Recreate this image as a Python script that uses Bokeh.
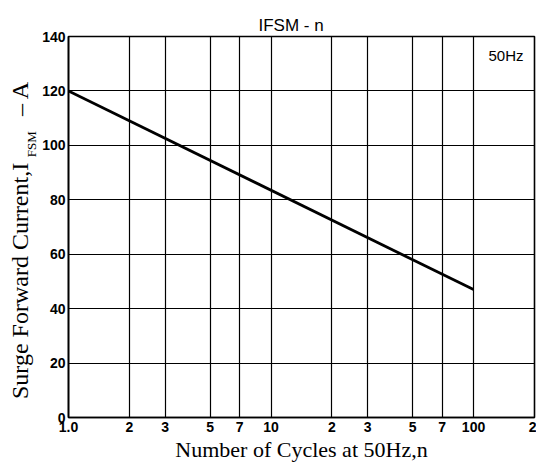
import math
from bokeh.plotting import figure
from bokeh.layouts import row
from bokeh.models import FixedTicker, Label
from bokeh.core.properties import value
from bokeh.embed import file_html
from bokeh.resources import INLINE

# ---- data ----
cycles = [1, 100]
ifsm = [120, 47]
x_ticks = [1, 2, 3, 5, 7, 10, 20, 30, 50, 70, 100, 200]
x_tick_labels = ["1.0", "2", "3", "5", "7", "10", "2", "3", "5", "7", "100", "2"]
y_ticks = [0, 20, 40, 60, 80, 100, 120, 140]
y_tick_labels = ["0", "20", "40", "60", "80", "100", "120", "140"]
title_text = "IFSM - n"
x_title = "Number of Cycles at 50Hz,n"
y_title_main = "Surge Forward Current,I"
y_title_sub = "FSM"
y_title_unit = "\u2013  A"
note_text = "50Hz"

FRAME_W, FRAME_H = 467, 381
LEFT_W = 39
TOP = 36
BOTTOM = 47
MAIN_W = 536 - LEFT_W
H = TOP + FRAME_H + BOTTOM

def blank(fig):
    fig.xgrid.visible = False
    fig.ygrid.visible = False
    fig.outline_line_color = None
    fig.background_fill_color = "white"
    fig.border_fill_color = "white"

# ---- main chart ----
p = figure(
    x_axis_type="log",
    x_range=(1, 200),
    y_range=(0, 140),
    width=MAIN_W,
    height=H,
    min_border=0,
    min_border_left=MAIN_W - FRAME_W - 2,
    min_border_right=2,
    min_border_top=TOP,
    min_border_bottom=BOTTOM,
    output_backend="svg",
    toolbar_location=None,
)
p.background_fill_color = "white"
p.border_fill_color = "white"
p.outline_line_color = "black"
p.outline_line_width = 1.6

p.title.text = title_text
p.title.align = "left"
p.title.offset = 190
p.title.standoff = 4
p.title.text_font = "Liberation Sans"
p.title.text_font_size = "17px"
p.title.text_font_style = "normal"
p.title.text_color = "black"

p.xaxis.ticker = FixedTicker(ticks=x_ticks)
p.xaxis.major_label_overrides = {float(t): lab for t, lab in zip(x_ticks, x_tick_labels)}
p.yaxis.ticker = FixedTicker(ticks=y_ticks)
p.yaxis.major_label_overrides = {float(t): lab for t, lab in zip(y_ticks, y_tick_labels)}
for ax in (p.xaxis, p.yaxis):
    ax.minor_tick_line_color = None
    ax.major_tick_in = 0
    ax.major_tick_out = 0
    ax.axis_line_color = "black"
    ax.axis_line_width = 1.6
    ax.major_label_text_font = "Liberation Sans"
    ax.major_label_text_font_size = "14px"
    ax.major_label_text_font_style = "bold"
    ax.major_label_text_color = "black"
p.xaxis.major_label_standoff = 4
p.yaxis.major_label_standoff = 3

p.xaxis.axis_label = x_title
p.xaxis.axis_label_text_font = "Liberation Serif"
p.xaxis.axis_label_text_font_size = "22px"
p.xaxis.axis_label_text_font_style = "normal"
p.xaxis.axis_label_text_color = "black"
p.xaxis.axis_label_standoff = 2

p.xgrid.ticker = FixedTicker(ticks=x_ticks)
p.ygrid.ticker = FixedTicker(ticks=y_ticks)
for g in (p.xgrid, p.ygrid):
    g.grid_line_color = "black"
    g.grid_line_width = 1.2
    g.grid_line_alpha = 1.0

p.line(cycles, ifsm, line_color="black", line_width=2.8)

note = Label(x=200, y=140, x_offset=-11, y_offset=-19, text=note_text,
             text_align="right", text_baseline="middle",
             text_font="Liberation Sans", text_font_size="15px", text_color="black")
p.add_layout(note)

# ---- y-axis title strip ----
l = figure(x_range=(0, LEFT_W), y_range=(0, 140), width=LEFT_W, height=H,
           min_border=0, min_border_top=TOP, min_border_bottom=BOTTOM,
           title_location=None, x_axis_location=None, y_axis_location=None,
           output_backend="svg", toolbar_location=None)
blank(l)
l.text(x=[19.5], y=[6.8], text=[y_title_main], angle=math.pi / 2,
       text_align="left", text_baseline="middle",
       text_font=value("Liberation Serif"), text_font_size=value("24px"), text_color="black")
l.text(x=[30.5], y=[95.6], text=[y_title_sub], angle=math.pi / 2,
       text_align="left", text_baseline="middle",
       text_font=value("Liberation Serif"), text_font_size=value("13px"), text_color="black")
l.text(x=[19.5], y=[110.8], text=[y_title_unit], angle=math.pi / 2,
       text_align="left", text_baseline="middle",
       text_font=value("Liberation Serif"), text_font_size=value("24px"), text_color="black")

layout = row(l, p, spacing=0)

open("out.html", "w").write(file_html(layout, INLINE))
